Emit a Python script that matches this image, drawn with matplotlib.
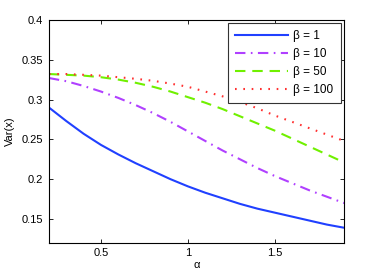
import matplotlib
matplotlib.use("Agg")
import matplotlib.pyplot as plt

plt.rcParams['font.family'] = ['Liberation Sans', 'DejaVu Sans']

alpha = [0.2, 0.3, 0.4, 0.5, 0.6, 0.7, 0.8, 0.9, 1.0,
         1.1, 1.2, 1.3, 1.4, 1.5, 1.6, 1.7, 1.8, 1.9]
var_b1 = [0.290, 0.273, 0.257, 0.243, 0.231, 0.220, 0.210, 0.200, 0.191,
          0.183, 0.176, 0.169, 0.163, 0.158, 0.153, 0.148, 0.143, 0.139]
var_b10 = [0.327, 0.323, 0.317, 0.310, 0.302, 0.293, 0.283, 0.272, 0.260,
           0.248, 0.236, 0.225, 0.214, 0.204, 0.195, 0.186, 0.178, 0.170]
var_b50 = [0.332, 0.331, 0.330, 0.328, 0.325, 0.321, 0.316, 0.310, 0.303,
           0.296, 0.288, 0.279, 0.270, 0.261, 0.251, 0.241, 0.231, 0.221]
var_b100 = [0.332, 0.332, 0.331, 0.330, 0.328, 0.326, 0.3235, 0.320, 0.316,
            0.310, 0.304, 0.297, 0.289, 0.280, 0.272, 0.264, 0.256, 0.248]

fig = plt.figure(figsize=(3.79, 2.76), dpi=100)
ax = fig.add_axes([0.129, 0.12, 0.779, 0.808])

lw = 1.5
ax.plot(alpha, var_b1, '-', color='#2040ff', lw=lw, label='β = 1')
ax.plot(alpha, var_b10, color='#b040ff', lw=lw, dashes=(5, 2.6, 0.8, 2.6),
        label='β = 10')
ax.plot(alpha, var_b50, color='#70f000', lw=lw, dashes=(5, 3.3),
        label='β = 50')
ax.plot(alpha, var_b100, color='#ff3030', lw=lw, dashes=(0.8, 3.2),
        label='β = 100')

ax.set_xlim(0.2, 1.9)
ax.set_ylim(0.12, 0.4)
ax.set_xticks([0.5, 1, 1.5])
ax.set_xticklabels(['0.5', '1', '1.5'])
ax.set_yticks([0.15, 0.2, 0.25, 0.3, 0.35, 0.4])
ax.set_yticklabels(['0.15', '0.2', '0.25', '0.3', '0.35', '0.4'])
ax.tick_params(direction='in', top=True, right=True, labelsize=8,
               length=3, width=0.6, pad=4)
for s in ax.spines.values():
    s.set_linewidth(0.8)

ax.set_xlabel('α', fontsize=8, labelpad=1)
ax.set_ylabel('Var(x)', fontsize=8, labelpad=5)

leg = ax.legend(loc='upper right', fontsize=8.5, fancybox=False, framealpha=1,
                edgecolor='#333333', handlelength=4.5, handletextpad=0.45,
                borderaxespad=0.3, labelspacing=0.5, borderpad=0.6)
leg.get_frame().set_linewidth(0.8)

fig.savefig('out.png', dpi=100)
